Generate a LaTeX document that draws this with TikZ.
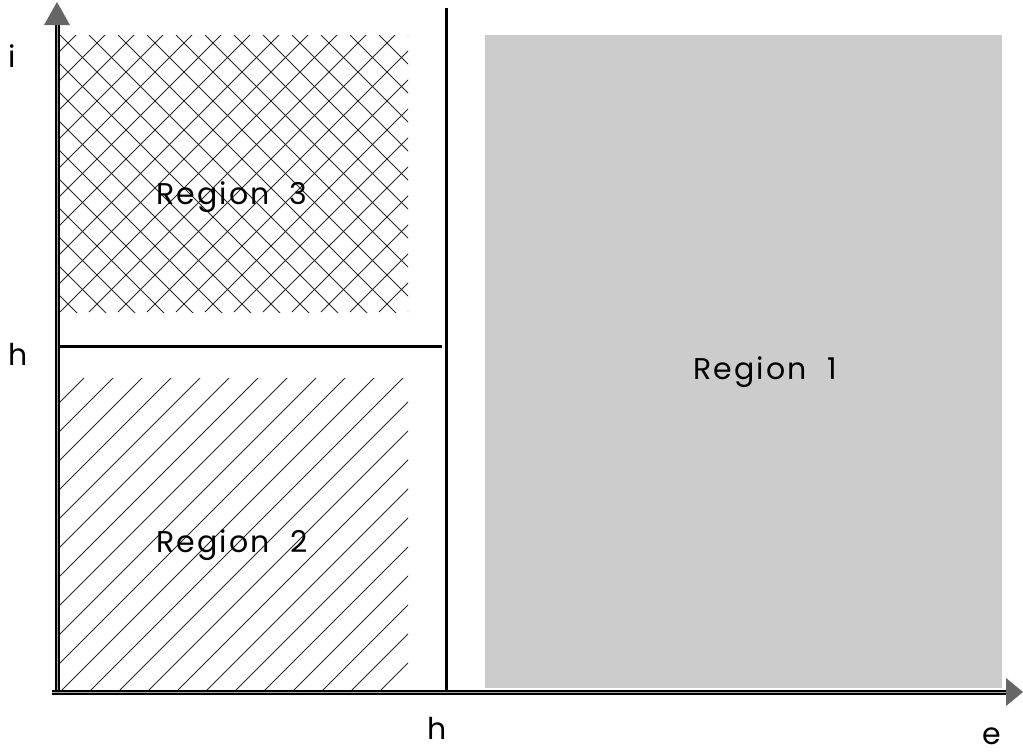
\documentclass[tikz,border=0pt]{standalone}
\usepackage{fontspec}
\setmainfont{Poppins}
\newfontfamily\regfont[LetterSpace=7]{Poppins}
\definecolor{arrowgray}{RGB}{102,102,102}
\definecolor{regiongray}{RGB}{204,204,204}
\begin{document}
\begin{tikzpicture}[x=1pt,y=-1pt,
  axis/.style={line width=2pt,double=gray!70,double distance=1pt},
  divider/.style={line width=3pt},
  hatchline/.style={line width=0.8pt,black!85},
  lbl/.style={font=\fontsize{30}{30}\selectfont,inner sep=0pt},
  reglbl/.style={font=\regfont\fontsize{30}{30}\selectfont,inner sep=0pt}]
\useasboundingbox (0,0) rectangle (1023,753);
% Region 1
\fill[regiongray] (485,35) rectangle (1002,688);
% Region 3 crosshatch
\begin{scope}
\clip (60,35) rectangle (408,312);
\foreach \k in {-20,...,30}{
  \draw[hatchline] ({60+\k*29},312) -- ({60+\k*29+300},12);
  \draw[hatchline] ({60+\k*29},35) -- ({60+\k*29+300},335);
}
\end{scope}
% Region 2 hatch
\begin{scope}
\clip (60,378) rectangle (408,690);
\foreach \k in {-20,...,20}{
  \draw[hatchline] ({60+\k*29},692) -- ({60+\k*29+340},352);
}
\end{scope}
% dividers
\coordinate (vtop) at (446,8);
\coordinate (vbot) at (446,692);
\coordinate (hl) at (57,346);
\coordinate (hr) at (442,346);
\draw[divider] (vtop) -- (vbot);
\draw[divider] (hl) -- (hr);
% axes
\coordinate (O) at (57,692);
\coordinate (Ytop) at (57,24);
\coordinate (Xend) at (1006,692);
\coordinate (Xstart) at (52,692);
\draw[axis] (O) -- (Ytop);
\draw[axis] (Xstart) -- (Xend);
\fill[arrowgray] (57,2) -- (70,25) -- (44,25) -- cycle;
\fill[arrowgray] (1023,692) -- (1006,678) -- (1006,706) -- cycle;
% labels
\node[lbl] (li) at (12,56) {i};
\node[lbl] (lh1) at (18,354) {h};
\node[lbl] (lh2) at (437,728) {h};
\node[lbl] (le) at (992,736) {e};
\node[reglbl] (r3) at (232,197) {Region\ \ 3};
\node[reglbl] (r2) at (232,545) {Region\ \ 2};
\node[reglbl] (r1) at (765,372) {Region\ \ 1};
\end{tikzpicture}
\end{document}
